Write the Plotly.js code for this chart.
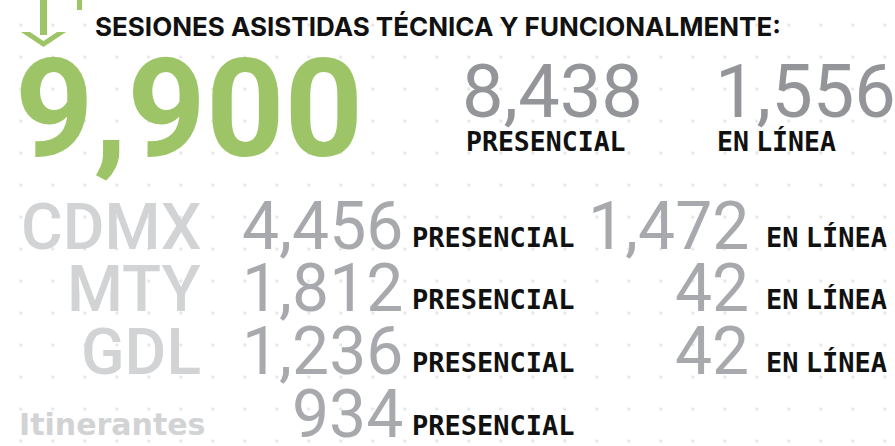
<!DOCTYPE html>
<html>
<head>
<meta charset="utf-8">
<script src="https://cdn.plot.ly/plotly-3.0.1.min.js"></script>
<style>html,body{margin:0;padding:0;background:#fff;}#chart{width:895px;height:446px;}</style>
</head>
<body>
<div id="chart"></div>
<script>
// ---- data ----
const headingText = 'SESIONES ASISTIDAS TÉCNICA Y FUNCIONALMENTE:';
const totalSessions = 9900;
const totalPresencial = 8438;
const totalEnLinea = 1556;
const sites = ['CDMX', 'MTY', 'GDL', 'Itinerantes'];
const sitePresencial = [4456, 1812, 1236, 934];
const siteEnLinea = [1472, 42, 42, null];
const labelPresencial = 'PRESENCIAL';
const labelEnLinea = 'EN LÍNEA';

// ---- helpers ----
const fmt = v => v.toLocaleString('en-US');
const W = 895, H = 446;
const GREEN = '#9dc567';
const SANS = 'Roboto, Arial, sans-serif';
const INTER = 'Inter, Roboto, sans-serif';
const MONO = '"DejaVu Sans Mono", monospace';
const DEJA = '"DejaVu Sans", sans-serif';
const enLineaHtml = labelEnLinea.replace(' ', '<span style="font-size:12px"> </span>');

// place text by baseline (pixel coords, y down). asc = ascent ratio of font
function txt(text, x, baseline, size, color, family, weight, anchor, asc) {
  return {
    text: text, x: x, y: baseline - asc * size - 2,
    xref: 'x', yref: 'y', xanchor: anchor, yanchor: 'top',
    showarrow: false, borderpad: 0,
    font: {size: size, color: color, family: family, weight: weight}
  };
}
const ASC_R = 0.927, ASC_M = 0.928, ASC_I = 0.969, ASC_D = 0.928;

const ann = [];
ann.push(txt(headingText, 94, 37, 26, '#111', INTER, 700, 'left', ASC_I));
ann.push(txt(fmt(totalSessions), 14, 157, 137, GREEN, SANS, 700, 'left', ASC_R));
ann.push(txt(fmt(totalPresencial), 461, 118, 74, '#939598', SANS, 400, 'left', ASC_R));
ann.push(txt(fmt(totalEnLinea), 714, 118, 74, '#939598', SANS, 400, 'left', ASC_R));
ann.push(txt(labelPresencial, 465, 152, 26.5, '#111', MONO, 700, 'left', ASC_M));
ann.push(txt(enLineaHtml, 716, 152, 26.5, '#111', MONO, 700, 'left', ASC_M));

const rowBase = [250, 312, 375, 438];
sites.forEach((s, i) => {
  const b = rowBase[i];
  if (s === 'Itinerantes') {
    ann.push(txt(s, 206, b - 2, 30, '#d1d3d4', DEJA, 700, 'right', ASC_D));
  } else {
    ann.push(txt(s, 202, b, 64, '#d1d3d4', SANS, 500, 'right', ASC_R));
  }
  ann.push(txt(fmt(sitePresencial[i]), 404, b, 66, '#a7a9ac', SANS, 400, 'right', ASC_R));
  ann.push(txt(labelPresencial, 411, b - 2, 27, '#111', MONO, 700, 'left', ASC_M));
  if (siteEnLinea[i] !== null) {
    ann.push(txt(fmt(siteEnLinea[i]), 750, b, 66, '#a7a9ac', SANS, 400, 'right', ASC_R));
    ann.push(txt(enLineaHtml, 765, b - 2, 27, '#111', MONO, 700, 'left', ASC_M));
  }
});

// background dot grid
const dx = [], dy = [];
for (let j = 0; j < 14; j++) for (let k = 0; k < 28; k++) { dx.push(20.7 + 32 * k); dy.push(25 + 32 * j); }

const traces = [{
  type: 'scatter', mode: 'markers', x: dx, y: dy, hoverinfo: 'skip',
  marker: {size: 3.5, color: '#e8e9ea'}
}];

const shapes = [
  // arrow shaft
  {type: 'rect', xref: 'x', yref: 'y', x0: 40, x1: 47, y0: 0, y1: 35, fillcolor: GREEN, line: {width: 0}},
  // arrow chevron
  {type: 'path', xref: 'x', yref: 'y',
   path: 'M 21 32 L 30 32 L 43.5 41 L 57 32 L 66 32 L 43.5 47 Z', fillcolor: GREEN, line: {width: 0}},
  // small tick
  {type: 'rect', xref: 'x', yref: 'y', x0: 77, x1: 82, y0: 0, y1: 10, fillcolor: GREEN, line: {width: 0}}
];

const layout = {
  width: W, height: H, margin: {l: 0, r: 0, t: 0, b: 0},
  paper_bgcolor: '#fff', plot_bgcolor: '#fff', showlegend: false,
  xaxis: {range: [0, W], visible: false, fixedrange: true},
  yaxis: {range: [H, 0], visible: false, fixedrange: true},
  annotations: ann, shapes: shapes
};
Plotly.newPlot('chart', traces, layout, {displayModeBar: false, staticPlot: true});
</script>
</body>
</html>
